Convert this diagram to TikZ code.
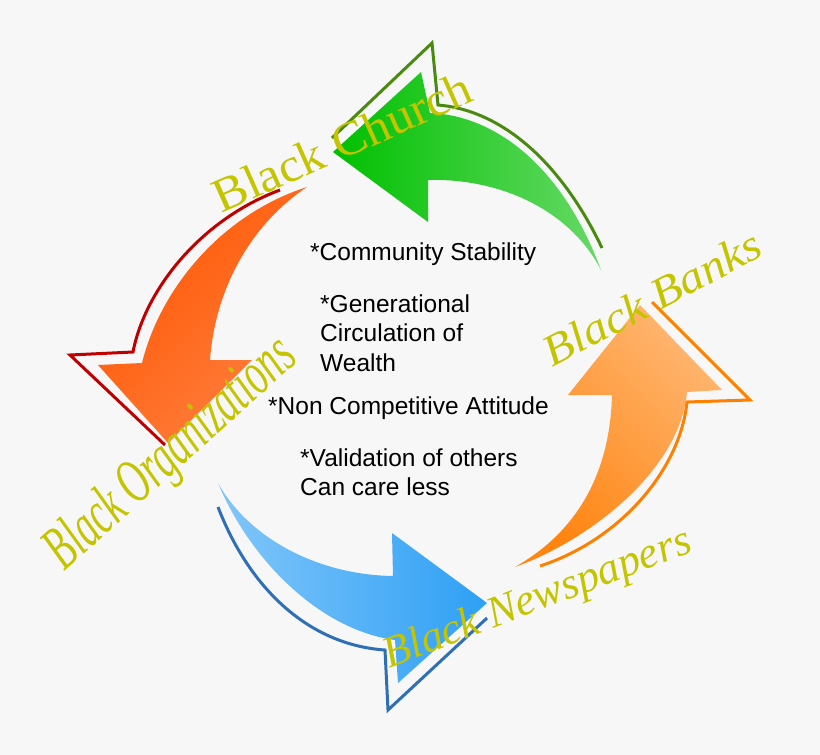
\documentclass[tikz,border=0pt]{standalone}
\usepackage{fontspec}
\setmainfont{Liberation Sans}
\newfontfamily\tagfont{Liberation Serif}
\usetikzlibrary{positioning}
\definecolor{bgcol}{HTML}{F7F7F7}
\definecolor{gfill}{HTML}{00C000}
\definecolor{gline}{HTML}{4A8A10}
\definecolor{rfill}{HTML}{FF5500}
\definecolor{rline}{HTML}{C00000}
\definecolor{bfill}{HTML}{2EA0F5}
\definecolor{bline}{HTML}{2F6FB5}
\definecolor{ofill}{HTML}{FF8410}
\definecolor{oline}{HTML}{FF8000}
\definecolor{tagcol}{HTML}{C4C400}
\tikzstyle{arrowline}=[line width=3pt, line join=miter]
\tikzstyle{tag}=[text=tagcol, font=\tagfont\fontsize{48}{48}\selectfont, inner sep=0pt]
\tikzstyle{point}=[anchor=west, align=left, font=\fontsize{24.5}{29.5}\selectfont, inner sep=0pt]
\begin{document}
\begin{tikzpicture}[x=1pt, y=-1pt]
          \fill[bgcol] (0,0) rectangle (820,755);
          % green
          \shade[left color=gfill, middle color=gfill, right color=gfill!60] (601,270) .. controls (560,160) and (490,115) .. (430,113) -- (421,72) -- (333,152) -- (428,222) -- (428,180) .. controls (500,178) and (570,210) .. (601,270) -- cycle;
          \draw[arrowline, gline] (602,248) .. controls (560,160) and (500,110) .. (438,105) -- (432,43) -- (332,138);
          % red
          \shade[left color=rfill, middle color=rfill, right color=rfill!75, shading angle=45] (307,187) .. controls (220,215) and (160,290) .. (142,363) -- (98,365) -- (168,443) -- (252,360) -- (210,360) .. controls (215,290) and (250,225) .. (307,187) -- cycle;
          \draw[arrowline, rline] (280,190) .. controls (200,220) and (145,290) .. (133,352) -- (70,355) -- (165,445);
          % blue
          \shade[left color=bfill!60, middle color=bfill, right color=bfill] (218,483) .. controls (250,560) and (320,630) .. (395,640) -- (398,683) -- (487,603) -- (392,533) -- (393,576) .. controls (320,575) and (250,540) .. (218,483) -- cycle;
          \draw[arrowline, bline] (218,507) .. controls (250,590) and (310,645) .. (385,650) -- (388,710) -- (487,618);
          % orange
          \shade[left color=ofill!60, middle color=ofill, right color=ofill, shading angle=-45] (515,567) .. controls (590,540) and (680,470) .. (687,392) -- (722,390) -- (640,305) -- (568,395) -- (612,395) .. controls (610,470) and (580,530) .. (515,567) -- cycle;
          \draw[arrowline, oline] (540,566) .. controls (620,540) and (680,470) .. (687,402) -- (750,400) -- (652,302);
          % labels
          \node[tag, rotate=24, xscale=1.05] (church) at (342,142){Black Church};
          \node[tag, rotate=42, xscale=0.8, yscale=1.3, font=\tagfont\itshape\fontsize{48}{48}\selectfont] (orgs) at (172,455){Black Organizations};
          \node[tag, rotate=21, font=\tagfont\itshape\fontsize{44}{44}\selectfont] (news) at (538,600){Black Newspapers};
          \node[tag, rotate=28, xscale=1.1, font=\tagfont\itshape\fontsize{44}{44}\selectfont] (banks) at (652,298){Black Banks};
          % points
          \node[point] (stab) at (310,254){*Community Stability};
          \node[point] (wealth) at (320,333){*Generational\\Circulation of\\Wealth};
          \node[point] (attit) at (268,408){*Non Competitive Attitude};
          \node[point] (valid) at (300,472){*Validation of others\\Can care less};
        \end{tikzpicture}
\end{document}
